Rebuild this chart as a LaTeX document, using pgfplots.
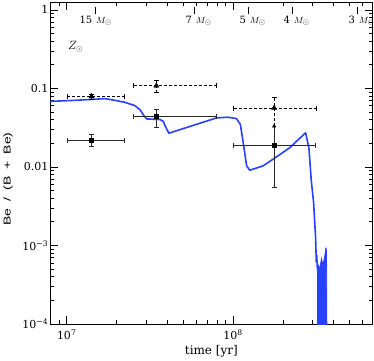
\documentclass[border=0pt]{standalone}
\usepackage{fontspec}
\setmainfont{DejaVu Serif}
\setsansfont{Liberation Sans}
\usepackage{graphicx}
\usepackage{pgfplots}
\pgfplotsset{compat=1.18}
\usetikzlibrary{arrows.meta}
\definecolor{modelblue}{RGB}{40,64,255}
\definecolor{bardark}{RGB}{40,40,40}

\newcommand{\masslabel}[2]{%
  \draw[line width=0.7pt] ([yshift=-5pt]axis cs:#1,1.26) -- ([yshift=-12pt]axis cs:#1,1.26);
  \node[anchor=base east, inner sep=0pt, font=\fontsize{10}{12}\selectfont] at ([xshift=-2.5pt,yshift=-21pt]axis cs:#1,1.26) {#2};
  \node[anchor=base west, inner sep=0pt, font=\fontsize{9.5}{12}\selectfont] at ([xshift=1pt,yshift=-21pt]axis cs:#1,1.26) {$M_\odot$};
}

\begin{document}
\begin{tikzpicture}
\begin{axis}[
  scale only axis, width=322.7pt, height=322pt,
  xmode=log, ymode=log,
  xmin=7.94e6, xmax=6.9e8, ymin=1e-4, ymax=1.26,
  axis line style={line width=0.9pt},
  tick style={black, line width=0.7pt},
  major tick length=8pt, minor tick length=4pt,
  tick align=inside,
  xtick={1e7,1e8}, xticklabels={10\textsuperscript{7},10\textsuperscript{8}},
  minor xtick={8e6,9e6,2e7,3e7,4e7,5e7,6e7,7e7,8e7,9e7,2e8,3e8,4e8,5e8,6e8},
  ytick={1e-4,1e-3,1e-2,1e-1,1},
  yticklabels={10\textsuperscript{−4},10\textsuperscript{−3},0.01,0.1,1},
  minor ytick={2e-4,3e-4,4e-4,5e-4,6e-4,7e-4,8e-4,9e-4,2e-3,3e-3,4e-3,5e-3,6e-3,7e-3,8e-3,9e-3,
    2e-2,3e-2,4e-2,5e-2,6e-2,7e-2,8e-2,9e-2,0.2,0.3,0.4,0.5,0.6,0.7,0.8,0.9},
  tick label style={font=\fontsize{11}{13}\selectfont},
  yticklabel style={inner sep=1.5pt},
  xticklabel style={yshift=-2pt},
  xlabel={time [yr]},
  ylabel={\sffamily\scalebox{1.4}[1]{Be\hspace{0.5em}/\hspace{0.5em}(B\hspace{0.5em}+\hspace{0.5em}Be)}},
  xlabel style={at={([yshift=-27pt]axis description cs:0.5,0)}, anchor=center,
    font=\fontsize{12}{14}\selectfont},
  ylabel style={at={([xshift=-42pt,yshift=-16pt]axis description cs:0,0.5)}, anchor=center,
    font=\fontsize{10}{12}\selectfont},
]
% model curve
\addplot[modelblue, line width=1.6pt, line join=round] coordinates {
(7.94e6,0.0684)(1.122e7,0.0705)(1.697e7,0.0741)(1.949e7,0.0705)(2.237e7,0.0665)
(2.569e7,0.0604)(2.753e7,0.0537)(2.880e7,0.0465)(3.02e7,0.0409)(3.63e7,0.0402)
(3.80e7,0.0382)(3.94e7,0.0321)(4.11e7,0.0269)(7.94e7,0.0421)(9.31e7,0.0430)
(1.047e8,0.0413)(1.106e8,0.0347)(1.158e8,0.01845)(1.206e8,0.0103)(1.258e8,0.00909)
(1.512e8,0.0103)(1.736e8,0.01252)(2.186e8,0.01755)(2.726e8,0.0272)(2.853e8,0.01755)
(2.95e8,0.00665)(3.045e8,0.00353)(3.13e8,0.00127)(3.15e8,8.0e-4)(3.16e8,6.2e-4)
(3.18e8,7.5e-4)(3.20e8,5.5e-4)(3.22e8,4.8e-4)
};
% rapidly oscillating tail
\addplot[modelblue, fill=modelblue, line width=0.8pt] coordinates {
(3.21e8,1e-5)(3.22e8,4.8e-4)(3.26e8,5.5e-4)(3.30e8,4.9e-4)(3.35e8,5.8e-4)
(3.40e8,6.8e-4)(3.44e8,6.0e-4)(3.50e8,6.2e-4)(3.56e8,7.5e-4)(3.61e8,9.3e-4)
(3.63e8,9.3e-4)(3.65e8,5e-4)(3.67e8,1e-5)
} -- cycle;

% dashed data (triangles)
\addplot[black, densely dashed, line width=0.7pt, {Bar[width=5pt]}-{Bar[width=5pt]}] coordinates {(1e7,0.0792)(2.24e7,0.0792)};
\addplot[black, densely dashed, line width=0.7pt, {Bar[width=5pt]}-{Bar[width=5pt]}] coordinates {(1.41e7,0.0719)(1.41e7,0.0857)};
\addplot[black, densely dashed, line width=0.7pt, {Bar[width=5pt]}-{Bar[width=5pt]}] coordinates {(2.51e7,0.108)(7.94e7,0.108)};
\addplot[black, densely dashed, line width=0.7pt, {Bar[width=5pt]}-{Bar[width=5pt]}] coordinates {(3.457e7,0.087)(3.457e7,0.127)};
\addplot[black, densely dashed, line width=0.7pt, {Bar[width=5pt]}-{Bar[width=5pt]}] coordinates {(1e8,0.0563)(3.16e8,0.0563)};
\addplot[black, densely dashed, line width=0.7pt, -{Bar[width=5pt]}] coordinates {(1.764e8,0.033)(1.764e8,0.0776)};
\addplot[only marks, mark=triangle*, mark size=3pt, black] coordinates {(1.41e7,0.0792)(3.457e7,0.108)(1.764e8,0.0563)};
\addplot[only marks, mark=triangle*, mark size=2pt, black] coordinates {(1.764e8,0.033)};

% solid data (squares)
\addplot[bardark, line width=0.9pt, {Bar[width=5pt]}-{Bar[width=5pt]}] coordinates {(1e7,0.022)(2.24e7,0.022)};
\addplot[bardark, line width=0.9pt, {Bar[width=5pt]}-{Bar[width=5pt]}] coordinates {(1.41e7,0.0179)(1.41e7,0.0264)};
\addplot[bardark, line width=0.9pt, {Bar[width=5pt]}-{Bar[width=5pt]}] coordinates {(2.51e7,0.0443)(7.94e7,0.0443)};
\addplot[bardark, line width=0.9pt, {Bar[width=5pt]}-{Bar[width=5pt]}] coordinates {(3.457e7,0.0314)(3.457e7,0.0553)};
\addplot[bardark, line width=0.9pt, {Bar[width=5pt]}-{Bar[width=5pt]}] coordinates {(1e8,0.019)(3.16e8,0.019)};
\addplot[bardark, line width=0.9pt, {Bar[width=5pt]}-] coordinates {(1.764e8,0.00547)(1.764e8,0.033)};
\addplot[only marks, mark=square*, mark size=2pt, black] coordinates {(1.41e7,0.022)(3.457e7,0.0443)(1.764e8,0.019)};

% initial masses along the top
\masslabel{1.479e7}{15}
\masslabel{5.884e7}{7}
\masslabel{1.240e8}{5}
\masslabel{2.278e8}{4}
\masslabel{5.6e8}{3}
\node[anchor=base west, inner sep=0pt, font=\fontsize{12}{14}\selectfont] at (axis cs:1.018e7,0.312) {$Z_\odot$};
\end{axis}
\pgfresetboundingbox
\path ([shift={(-50pt,-36pt)}]current axis.south west) rectangle ++(374pt,360pt);
\end{tikzpicture}
\end{document}
